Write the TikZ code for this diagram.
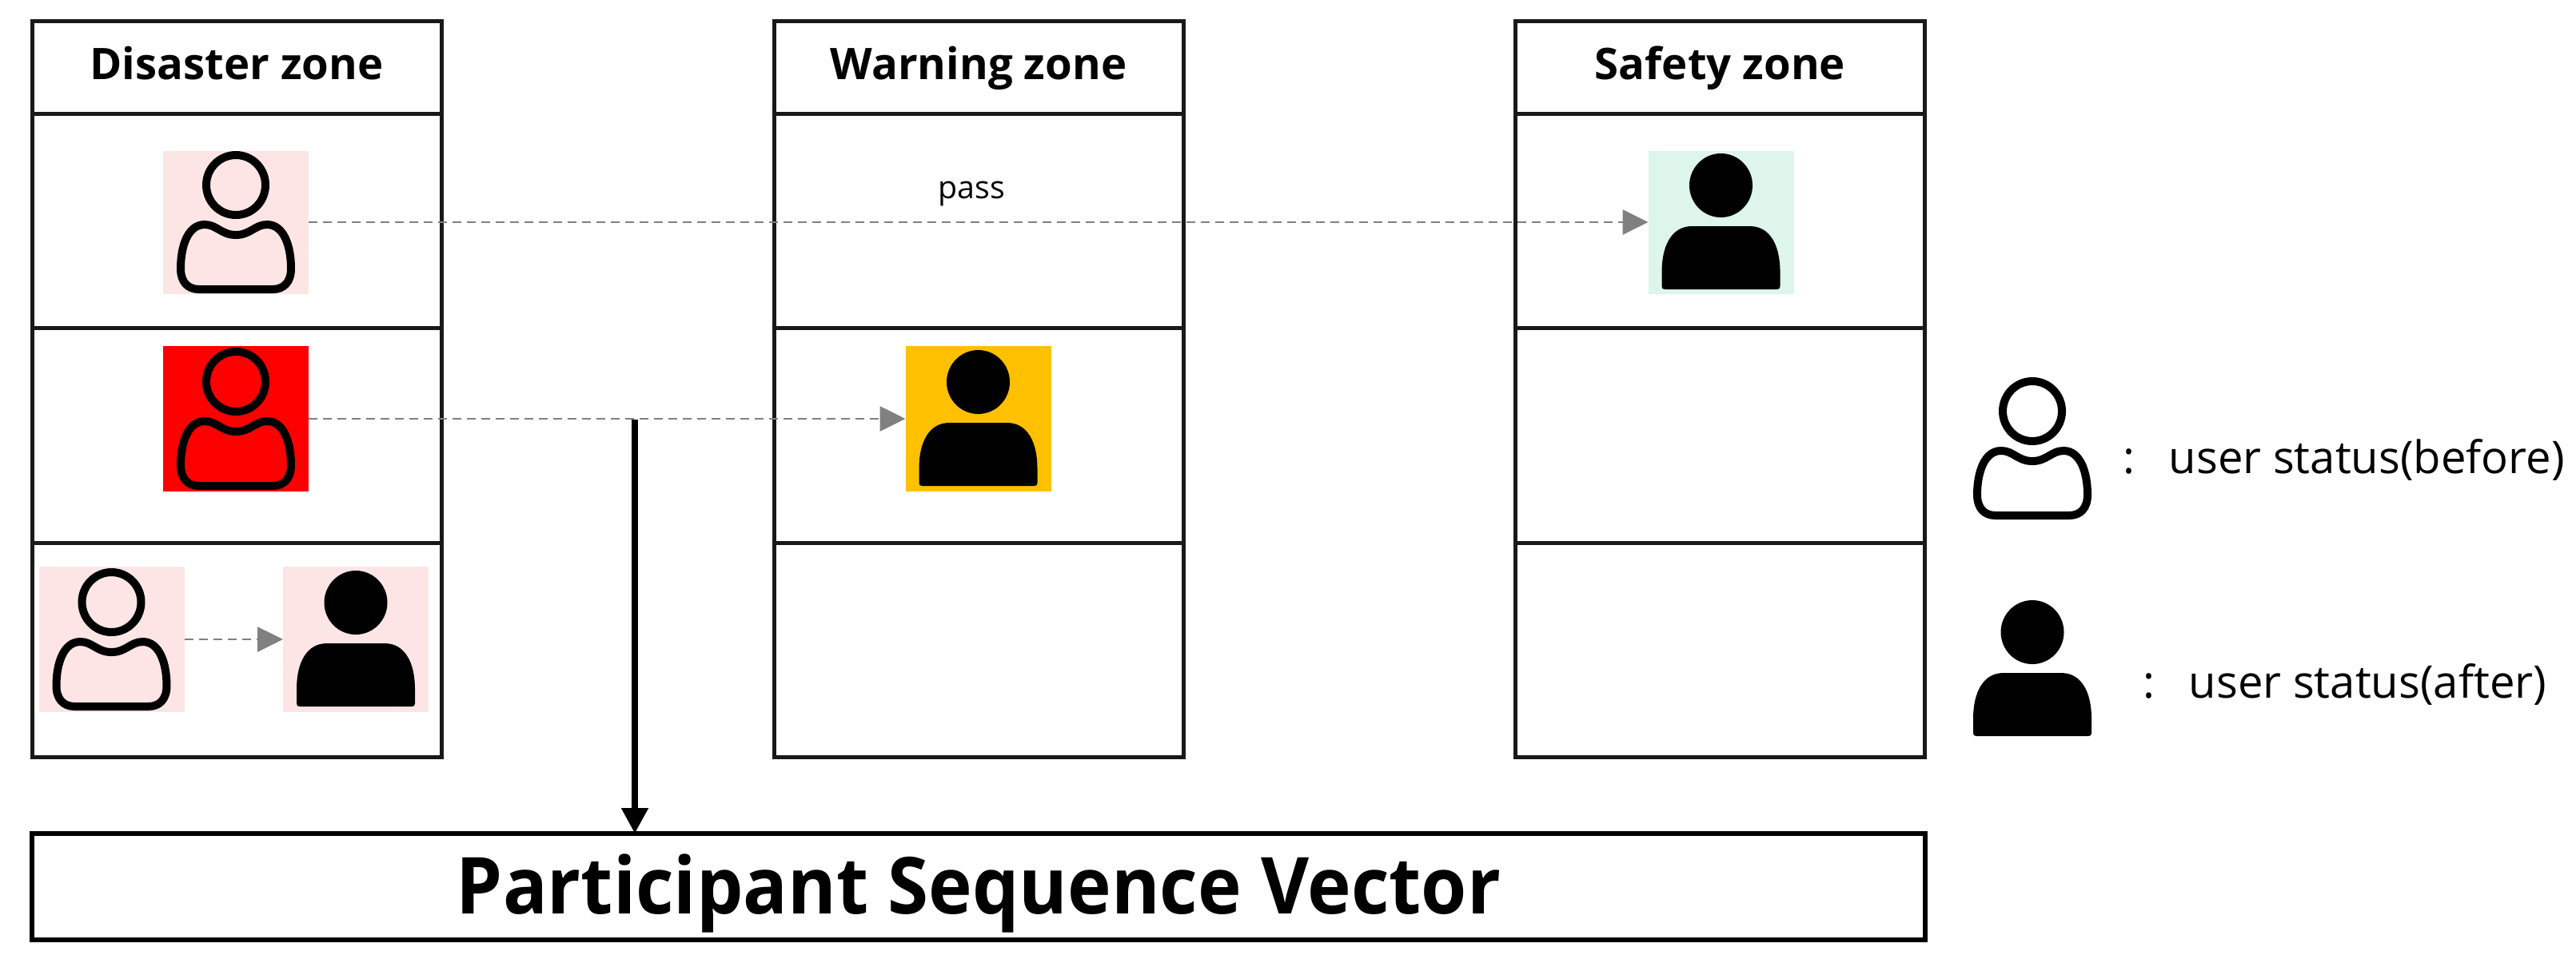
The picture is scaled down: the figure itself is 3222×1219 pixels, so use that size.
\documentclass[tikz,border=0pt]{standalone}
\usepackage{fontspec}
\setmainfont{Open Sans}
\usetikzlibrary{arrows.meta, positioning}

\definecolor{softpink}{HTML}{FDE5E5}
\definecolor{softgreen}{HTML}{DDF5EA}
\definecolor{amber}{HTML}{FFC000}
\definecolor{flowgray}{HTML}{808080}

\tikzset{
  zonehead/.style={draw=black!90, line width=0.5mm, minimum width=51.2mm, minimum height=11.55mm,
    inner sep=0pt, outer sep=0pt, text height=12pt, text depth=3.2pt,
    font=\fontsize{15.5}{18}\selectfont\bfseries},
  zonerow/.style={draw=black!90, line width=0.5mm, minimum width=51.2mm, minimum height=26.85mm,
    inner sep=0pt, outer sep=0pt},
  iconbox/.style={minimum width=18.2mm, minimum height=18.2mm, inner sep=0pt, outer sep=0pt},
  flow/.style={draw=flowgray, line width=0.28mm, dash pattern=on 1.1mm off 0.7mm,
    -{Triangle[length=3.2mm, width=3.1mm, fill=flowgray, sep=0pt]}},
  legendtext/.style={anchor=base west, inner sep=0pt, font=\fontsize{16}{19}\selectfont},
  useroff/.pic={
    \draw[line width=1mm] (0,-46.5) ellipse [x radius=37, y radius=37.5];
    \draw[line width=1mm] (0,16) .. controls (-18,16) and (-24,3) .. (-39,3)
      .. controls (-60,3) and (-69,30) .. (-69,58)
      .. controls (-69,75) and (-60,84) .. (-46,84) -- (46,84)
      .. controls (60,84) and (69,75) .. (69,58)
      .. controls (69,30) and (60,3) .. (39,3)
      .. controls (24,3) and (18,16) .. (0,16) -- cycle;
  },
  useron/.pic={
    \fill (0,-46) ellipse [x radius=39.5, y radius=40];
    \fill (-74,80) -- (-74,62) .. controls (-74,30) and (-62,5) .. (-36,5) -- (36,5)
      .. controls (62,5) and (74,30) .. (74,62) -- (74,80)
      .. controls (74,83) and (73,84) .. (70,84) -- (-70,84)
      .. controls (-73,84) and (-74,83) .. (-74,80) -- cycle;
  }
}

\begin{document}
\begin{tikzpicture}[x=0.1mm, y=-0.1mm]
  \useasboundingbox (0,0) rectangle (3222,1219);

  \foreach \col/\xpos/\zone in {d/296/Disaster zone, w/1224/Warning zone, s/2151.5/Safety zone} {
    \node[zonehead] (\col0) at (\xpos,84.5) {\zone};
    \node[zonerow, below=0pt of \col0] (\col1) {};
    \node[zonerow, below=0pt of \col1] (\col2) {};
    \node[zonerow, below=0pt of \col2] (\col3) {};
  }

  \node[iconbox, fill=softpink, minimum height=17.9mm] (before1) at (295,278) {};
  \node[iconbox, fill=red] (before2) at (295,524) {};
  \node[iconbox, fill=softpink] (before3) at (139.5,800) {};
  \node[iconbox, fill=softpink] (after3) at (445,800) {};
  \node[iconbox, fill=amber] (after2) at (1223.5,524) {};
  \node[iconbox, fill=softgreen, minimum height=17.9mm] (after1) at (2152.5,278) {};
  \node[iconbox] (legendoff) at (2542,561) {};
  \node[iconbox] (legendon) at (2542,837) {};

  \foreach \icon in {before1, before2, before3, legendoff}
    \pic at (\icon) {useroff};
  \foreach \icon in {after1, after2, after3, legendon}
    \pic at (\icon) {useron};

  \draw[flow] (before1) -- (after1);
  \draw[flow] (before2) -- (after2);
  \draw[flow] (before3) -- (after3);
  \node[font=\fontsize{11.2}{13}\selectfont] (passlabel) at (1215,242) {pass};

  \node[draw, line width=0.62mm, minimum width=236.8mm, minimum height=13.3mm, inner sep=0pt,
    outer sep=0pt, text height=26pt, text depth=6.4pt,
    font=\fontsize{28}{32}\selectfont\bfseries\addfontfeature{FakeStretch=0.94}] (psv) at (1224,1109.5) {Participant Sequence Vector};

  \coordinate (tap) at (794,525);
  \draw[line width=0.85mm, -{Triangle[length=3.2mm, width=3.2mm, sep=0pt]}] (tap) -- (tap |- psv.north);

  \node[legendtext] (statusoff) at (2655,592) {:\hspace{4.2mm}user status(before)};
  \node[legendtext] (statuson) at (2680,873) {:\hspace{4.2mm}user status(after)};
\end{tikzpicture}
\end{document}
